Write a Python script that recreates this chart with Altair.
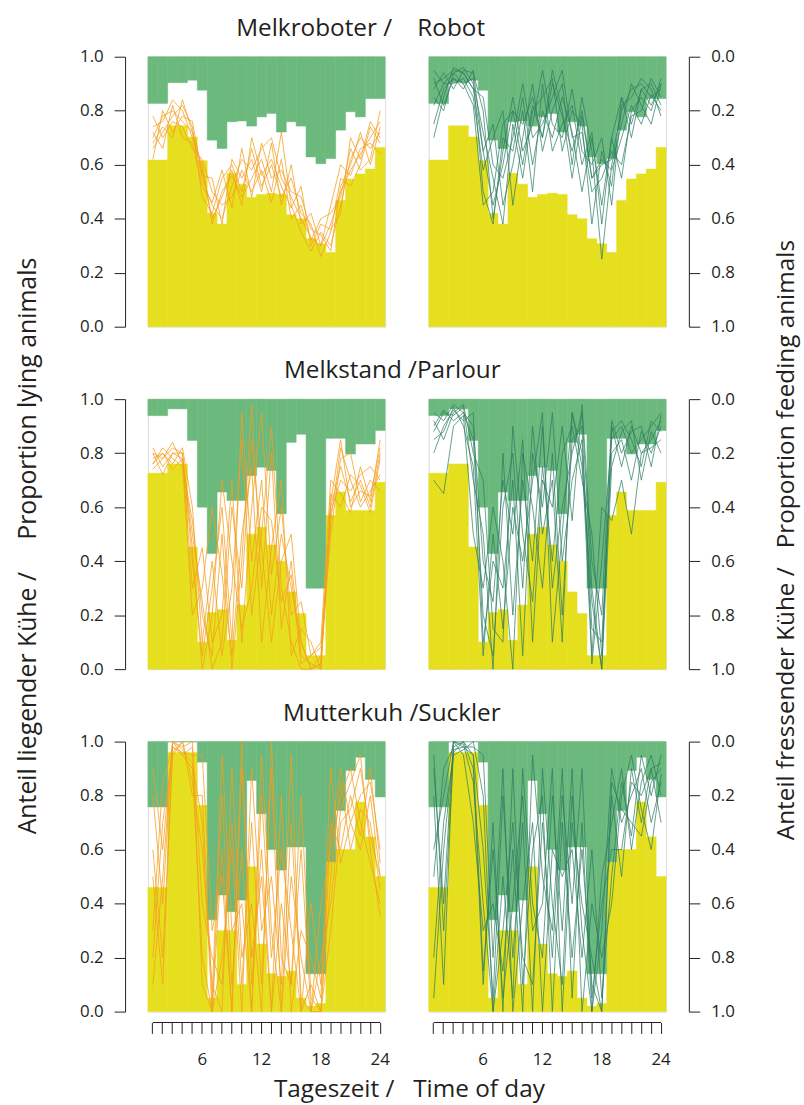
import altair as alt
import pandas as pd

HOURS = list(range(1, 25))

ROW_TITLES = ["Melkroboter /\u00a0\u00a0\u00a0\u00a0Robot", "Melkstand /Parlour", "Mutterkuh /Suckler"]
LEFT_TITLE = "Anteil liegender Kühe /\u00a0\u00a0\u00a0\u00a0\u00a0Proportion lying animals"
RIGHT_TITLE = "Anteil fressender Kühe /\u00a0\u00a0\u00a0Proportion feeding animals"
BOTTOM_TITLE = "Tageszeit /\u00a0\u00a0\u00a0Time of day"
Y_TICKS = [0.0, 0.2, 0.4, 0.6, 0.8, 1.0]

# mean proportion of lying animals per hour (yellow bars)
lying_robot = [0.617, 0.617, 0.744, 0.744, 0.703, 0.615, 0.42, 0.38, 0.568, 0.528, 0.479, 0.49,
               0.494, 0.49, 0.415, 0.40, 0.326, 0.307, 0.275, 0.467, 0.547, 0.566, 0.584, 0.664]
lying_parlour = [0.726, 0.726, 0.76, 0.76, 0.452, 0.10, 0.21, 0.22, 0.107, 0.237, 0.50, 0.526,
                 0.46, 0.40, 0.286, 0.206, 0.05, 0.05, 0.569, 0.656, 0.588, 0.588, 0.588, 0.692]
lying_suckler = [0.46, 0.46, 0.96, 0.96, 0.96, 0.764, 0.05, 0.30, 0.30, 0.10, 0.536, 0.25,
                 0.14, 0.13, 0.15, 0.05, 0.02, 0.03, 0.58, 0.60, 0.60, 0.776, 0.647, 0.50]

# mean proportion of feeding animals per hour (green bars, drawn from the top)
feeding_robot = [0.173, 0.173, 0.096, 0.096, 0.087, 0.124, 0.309, 0.340, 0.241, 0.238, 0.257, 0.223,
                 0.21, 0.279, 0.241, 0.257, 0.371, 0.396, 0.377, 0.272, 0.204, 0.223, 0.155, 0.155]
feeding_parlour = [0.061, 0.061, 0.036, 0.036, 0.153, 0.40, 0.572, 0.344, 0.375, 0.375, 0.283, 0.252,
                   0.264, 0.424, 0.16, 0.13, 0.70, 0.70, 0.145, 0.145, 0.203, 0.166, 0.166, 0.116]
feeding_suckler = [0.242, 0.242, 0.0, 0.0, 0.0, 0.076, 0.66, 0.568, 0.63, 0.587, 0.144, 0.267,
                   0.40, 0.476, 0.39, 0.39, 0.86, 0.86, 0.445, 0.255, 0.107, 0.058, 0.14, 0.205]

# individual days, proportion lying (orange lines)
days_lying_robot = [
    [0.70, 0.78, 0.80, 0.76, 0.72, 0.55, 0.45, 0.40, 0.52, 0.62, 0.58, 0.66, 0.70, 0.55, 0.48, 0.40, 0.33, 0.30, 0.38, 0.50, 0.58, 0.64, 0.70, 0.76],
    [0.74, 0.76, 0.84, 0.80, 0.70, 0.60, 0.38, 0.50, 0.56, 0.48, 0.55, 0.62, 0.50, 0.72, 0.45, 0.35, 0.28, 0.35, 0.30, 0.45, 0.62, 0.70, 0.66, 0.72],
    [0.66, 0.72, 0.78, 0.82, 0.74, 0.48, 0.42, 0.55, 0.60, 0.50, 0.66, 0.52, 0.60, 0.48, 0.55, 0.42, 0.38, 0.26, 0.35, 0.55, 0.52, 0.60, 0.74, 0.68],
    [0.78, 0.70, 0.76, 0.74, 0.66, 0.62, 0.50, 0.45, 0.48, 0.58, 0.50, 0.58, 0.46, 0.62, 0.40, 0.45, 0.32, 0.40, 0.42, 0.48, 0.66, 0.58, 0.62, 0.80],
    [0.62, 0.80, 0.72, 0.78, 0.76, 0.56, 0.55, 0.38, 0.62, 0.55, 0.62, 0.50, 0.68, 0.45, 0.60, 0.38, 0.42, 0.30, 0.45, 0.60, 0.56, 0.66, 0.68, 0.64],
    [0.72, 0.66, 0.82, 0.70, 0.68, 0.52, 0.46, 0.58, 0.44, 0.66, 0.48, 0.68, 0.55, 0.58, 0.50, 0.48, 0.36, 0.34, 0.28, 0.52, 0.60, 0.72, 0.60, 0.74],
    [0.68, 0.74, 0.70, 0.84, 0.72, 0.58, 0.40, 0.48, 0.58, 0.45, 0.70, 0.56, 0.62, 0.52, 0.44, 0.52, 0.30, 0.38, 0.36, 0.42, 0.70, 0.62, 0.76, 0.70],
]
days_lying_parlour = [
    [0.80, 0.78, 0.82, 0.80, 0.40, 0.05, 0.30, 0.60, 0.10, 0.95, 0.40, 0.70, 0.20, 0.50, 0.30, 0.10, 0.00, 0.02, 0.60, 0.75, 0.62, 0.70, 0.60, 0.80],
    [0.76, 0.82, 0.78, 0.75, 0.55, 0.20, 0.05, 0.50, 0.00, 0.40, 0.98, 0.30, 0.80, 0.15, 0.40, 0.05, 0.02, 0.00, 0.55, 0.82, 0.70, 0.60, 0.66, 0.72],
    [0.82, 0.75, 0.80, 0.78, 0.30, 0.45, 0.10, 0.20, 0.70, 0.10, 0.60, 0.95, 0.35, 0.60, 0.20, 0.25, 0.05, 0.10, 0.70, 0.65, 0.58, 0.75, 0.62, 0.85],
    [0.78, 0.80, 0.76, 0.82, 0.60, 0.10, 0.40, 0.05, 0.30, 0.85, 0.20, 0.50, 0.90, 0.30, 0.10, 0.00, 0.00, 0.05, 0.50, 0.78, 0.80, 0.62, 0.70, 0.66],
    [0.74, 0.78, 0.84, 0.76, 0.20, 0.30, 0.60, 0.35, 0.05, 0.50, 0.75, 0.10, 0.45, 0.70, 0.05, 0.15, 0.10, 0.00, 0.65, 0.60, 0.72, 0.68, 0.58, 0.78],
    [0.80, 0.72, 0.80, 0.80, 0.45, 0.00, 0.20, 0.70, 0.40, 0.15, 0.30, 0.60, 0.55, 0.25, 0.35, 0.02, 0.05, 0.08, 0.58, 0.70, 0.66, 0.72, 0.75, 0.70],
    [0.76, 0.80, 0.74, 0.78, 0.50, 0.25, 0.00, 0.10, 0.60, 0.30, 0.85, 0.45, 0.10, 0.40, 0.50, 0.10, 0.00, 0.02, 0.62, 0.85, 0.60, 0.66, 0.64, 0.82],
]
days_lying_suckler = [
    [0.10, 0.50, 1.00, 0.95, 0.90, 0.20, 0.00, 0.80, 0.10, 0.60, 0.00, 0.95, 0.30, 0.00, 0.70, 0.05, 0.00, 0.40, 0.60, 0.80, 0.90, 0.70, 0.55, 0.40],
    [0.60, 0.20, 0.95, 1.00, 0.85, 0.60, 0.10, 0.00, 0.90, 0.20, 0.40, 0.00, 1.00, 0.20, 0.10, 0.60, 0.00, 0.00, 0.30, 0.70, 0.75, 0.90, 0.65, 0.50],
    [0.30, 0.85, 0.98, 0.96, 0.95, 0.95, 0.30, 0.50, 0.00, 1.00, 0.10, 0.60, 0.00, 0.80, 0.00, 0.30, 0.20, 0.05, 0.90, 0.55, 0.70, 0.80, 0.85, 0.60],
    [0.80, 0.40, 1.00, 0.98, 1.00, 0.10, 0.00, 0.20, 0.60, 0.00, 0.90, 0.30, 0.50, 0.10, 0.95, 0.00, 0.10, 0.00, 0.50, 0.85, 0.60, 0.75, 0.70, 0.45],
    [0.20, 0.70, 0.96, 1.00, 0.80, 0.80, 0.05, 0.95, 0.30, 0.40, 0.00, 0.80, 0.20, 0.60, 0.30, 0.00, 0.40, 0.10, 0.70, 0.60, 0.80, 0.65, 0.90, 0.55],
    [0.50, 0.10, 0.98, 0.95, 0.98, 0.40, 0.20, 0.10, 0.70, 0.10, 0.70, 0.10, 0.90, 0.00, 0.50, 0.20, 0.00, 0.20, 0.40, 0.75, 0.85, 0.95, 0.60, 0.35],
    [0.90, 0.60, 1.00, 0.97, 0.92, 0.70, 0.00, 0.60, 0.00, 0.90, 0.20, 0.50, 0.00, 0.40, 0.10, 0.80, 0.05, 0.00, 0.65, 0.90, 0.70, 0.60, 0.80, 0.50],
]

# individual days, proportion feeding (dark green lines, measured from the top)
days_feeding_robot = [
    [0.10, 0.08, 0.05, 0.06, 0.12, 0.35, 0.55, 0.40, 0.20, 0.25, 0.15, 0.30, 0.10, 0.22, 0.35, 0.20, 0.45, 0.40, 0.38, 0.20, 0.12, 0.10, 0.15, 0.12],
    [0.25, 0.12, 0.08, 0.10, 0.08, 0.50, 0.62, 0.30, 0.35, 0.15, 0.40, 0.20, 0.30, 0.15, 0.28, 0.50, 0.30, 0.55, 0.30, 0.45, 0.20, 0.15, 0.20, 0.08],
    [0.15, 0.20, 0.06, 0.04, 0.10, 0.28, 0.45, 0.62, 0.25, 0.45, 0.20, 0.15, 0.08, 0.35, 0.20, 0.25, 0.62, 0.35, 0.48, 0.15, 0.25, 0.12, 0.10, 0.18],
    [0.05, 0.10, 0.10, 0.08, 0.15, 0.42, 0.30, 0.20, 0.55, 0.30, 0.10, 0.35, 0.20, 0.10, 0.40, 0.15, 0.35, 0.75, 0.40, 0.25, 0.10, 0.18, 0.25, 0.10],
    [0.12, 0.06, 0.12, 0.05, 0.06, 0.20, 0.60, 0.35, 0.15, 0.35, 0.25, 0.05, 0.25, 0.30, 0.12, 0.35, 0.40, 0.30, 0.55, 0.18, 0.15, 0.08, 0.12, 0.22],
    [0.30, 0.15, 0.04, 0.06, 0.12, 0.15, 0.40, 0.45, 0.30, 0.10, 0.30, 0.25, 0.15, 0.05, 0.30, 0.28, 0.50, 0.45, 0.35, 0.40, 0.22, 0.20, 0.08, 0.15],
    [0.08, 0.18, 0.08, 0.12, 0.05, 0.35, 0.25, 0.55, 0.40, 0.20, 0.50, 0.10, 0.35, 0.25, 0.18, 0.40, 0.28, 0.62, 0.30, 0.15, 0.30, 0.12, 0.18, 0.10],
    [0.18, 0.10, 0.06, 0.10, 0.18, 0.55, 0.50, 0.25, 0.20, 0.40, 0.18, 0.30, 0.05, 0.20, 0.45, 0.22, 0.45, 0.38, 0.42, 0.30, 0.18, 0.25, 0.14, 0.20],
]
days_feeding_parlour = [
    [0.05, 0.08, 0.02, 0.05, 0.15, 0.80, 0.95, 0.40, 0.20, 0.70, 0.10, 0.50, 0.30, 0.90, 0.05, 0.20, 0.98, 0.60, 0.15, 0.10, 0.20, 0.15, 0.10, 0.05],
    [0.12, 0.05, 0.06, 0.03, 0.30, 0.50, 1.00, 0.20, 0.80, 0.30, 0.60, 0.10, 0.70, 0.40, 0.20, 0.05, 0.70, 1.00, 0.10, 0.25, 0.10, 0.20, 0.15, 0.08],
    [0.20, 0.10, 0.04, 0.08, 0.05, 0.90, 0.60, 0.70, 0.30, 0.95, 0.20, 0.40, 0.05, 0.60, 0.30, 0.15, 0.85, 0.90, 0.20, 0.15, 0.30, 0.12, 0.20, 0.10],
    [0.08, 0.15, 0.05, 0.02, 0.20, 0.30, 0.85, 0.90, 0.10, 0.50, 0.75, 0.25, 0.60, 0.20, 0.10, 0.30, 0.50, 0.95, 0.12, 0.08, 0.15, 0.25, 0.08, 0.12],
    [0.30, 0.35, 0.10, 0.06, 0.50, 0.70, 0.40, 0.60, 1.00, 0.20, 0.40, 0.70, 0.20, 0.80, 0.15, 0.10, 0.95, 0.40, 0.45, 0.30, 0.50, 0.20, 0.18, 0.15],
    [0.10, 0.04, 0.08, 0.05, 0.10, 0.60, 0.75, 0.30, 0.50, 0.15, 0.90, 0.30, 0.40, 0.10, 0.45, 0.02, 0.60, 0.80, 0.08, 0.20, 0.12, 0.10, 0.25, 0.06],
    [0.15, 0.12, 0.03, 0.10, 0.25, 0.95, 0.50, 0.85, 0.40, 0.60, 0.30, 0.05, 0.90, 0.50, 0.05, 0.25, 0.75, 1.00, 0.25, 0.12, 0.08, 0.30, 0.12, 0.20],
]
days_feeding_suckler = [
    [0.10, 0.60, 0.00, 0.02, 0.05, 0.40, 0.95, 0.20, 0.80, 0.30, 1.00, 0.10, 0.60, 0.90, 0.20, 0.70, 1.00, 0.50, 0.30, 0.10, 0.40, 0.15, 0.05, 0.20],
    [0.50, 0.10, 0.02, 0.00, 0.10, 0.90, 0.30, 1.00, 0.10, 0.90, 0.40, 0.20, 1.00, 0.30, 0.80, 0.40, 0.90, 1.00, 0.20, 0.50, 0.10, 0.30, 0.10, 0.08],
    [0.80, 0.30, 0.05, 0.03, 0.00, 0.20, 1.00, 0.50, 0.95, 0.10, 0.60, 0.80, 0.20, 0.70, 0.10, 1.00, 0.60, 0.80, 0.60, 0.20, 0.05, 0.25, 0.40, 0.12],
    [0.20, 0.90, 0.00, 0.05, 0.30, 0.70, 0.60, 0.85, 0.40, 1.00, 0.05, 0.50, 0.70, 0.10, 0.95, 0.30, 1.00, 0.70, 0.10, 0.30, 0.20, 0.10, 0.30, 0.15],
    [0.95, 0.40, 0.03, 0.02, 0.02, 0.05, 0.80, 0.10, 1.00, 0.60, 0.30, 1.00, 0.40, 0.50, 0.40, 0.80, 0.40, 0.95, 0.50, 0.15, 0.35, 0.05, 0.20, 0.05],
    [0.40, 0.20, 0.00, 0.01, 0.15, 0.60, 1.00, 0.70, 0.30, 0.80, 0.90, 0.30, 0.80, 0.20, 0.60, 0.10, 0.95, 0.60, 0.40, 0.40, 0.15, 0.20, 0.10, 0.30],
    [0.05, 0.70, 0.04, 0.00, 0.05, 0.85, 0.40, 0.95, 0.60, 0.20, 0.70, 0.60, 0.10, 1.00, 0.30, 0.60, 0.80, 1.00, 0.15, 0.25, 0.30, 0.35, 0.15, 0.10],
]

LYING = [lying_robot, lying_parlour, lying_suckler]
FEEDING = [feeding_robot, feeding_parlour, feeding_suckler]
DAYS_LYING = [days_lying_robot, days_lying_parlour, days_lying_suckler]
DAYS_FEEDING = [days_feeding_robot, days_feeding_parlour, days_feeding_suckler]

# ---- style ----
FONT = "Open Sans"
TXT = "#231F20"
YEL = "#E6DF1E"
GRN = "#6CB97D"
ORANGE = "#F59E1E"
DKGRN = "#2B7C62"
W, H = 239, 272
TITLE_DX = [89, 137, 136]


def long_df(days):
    rows = []
    for d, vals in enumerate(days):
        for h, v in zip(HOURS, vals):
            rows.append({"hour": h, "val": v, "day": d})
    return pd.DataFrame(rows)


def panel(row, side):
    mean_df = pd.DataFrame({"hour": HOURS, "lying": LYING[row], "feeding": FEEDING[row]})
    xscale = alt.Scale(paddingInner=0, paddingOuter=0)
    if row == 2:
        xaxis = alt.Axis(orient="bottom", offset=11, tickSize=11, domain=False, labelPadding=18,
                         labelAngle=0, labelFontSize=17, labelFont=FONT, labelColor=TXT,
                         tickColor=TXT, tickWidth=1,
                         labelExpr="datum.value % 6 == 0 ? datum.label : ''", title=None)
    else:
        xaxis = None
    yscale = alt.Scale(domain=[0, 1], nice=False, zero=True)
    common = dict(offset=23, values=Y_TICKS, tickSize=11, labelPadding=11, labelFontSize=17,
                  labelFont=FONT, labelColor=TXT, tickColor=TXT, domainColor=TXT,
                  grid=False, title=None)
    if side == "left":
        yaxis = alt.Axis(orient="left", format=".1f", **common)
    else:
        yaxis = alt.Axis(orient="right", labelExpr="format(1 - datum.value, '.1f')", **common)

    def X(field="hour:O"):
        return alt.X(field, scale=xscale, axis=xaxis)

    def Y(field):
        return alt.Y(field, scale=yscale, axis=yaxis)

    yellow = alt.Chart(mean_df).mark_bar(color=YEL, stroke=YEL, strokeWidth=0.5).encode(
        x=X(), y=Y("lying:Q"), y2=alt.datum(0))
    green = alt.Chart(mean_df).transform_calculate(top="1 - datum.feeding").mark_bar(
        color=GRN, stroke=GRN, strokeWidth=0.5).encode(x=X(), y=Y("top:Q"), y2=alt.datum(1))

    if side == "left":
        ldf = long_df(DAYS_LYING[row])
        lines = alt.Chart(ldf).mark_line(color=ORANGE, strokeWidth=0.9, opacity=0.85).encode(
            x=X(), y=Y("val:Q"), detail="day:N")
    else:
        ldf = long_df(DAYS_FEEDING[row])
        lines = alt.Chart(ldf).transform_calculate(inv="1 - datum.val").mark_line(
            color=DKGRN, strokeWidth=0.8, opacity=0.9).encode(x=X(), y=Y("inv:Q"), detail="day:N")

    layers = [yellow, green, lines]

    if side == "left":
        layers.append(alt.Chart(pd.DataFrame({"t": [ROW_TITLES[row]]})).mark_text(
            align="left", baseline="alphabetic", fontSize=24.5, font=FONT, color=TXT).encode(
            text="t:N", x=alt.value(TITLE_DX[row]), y=alt.value(-21)))
    if row == 1 and side == "left":
        layers.append(alt.Chart(pd.DataFrame({"t": [LEFT_TITLE]})).mark_text(
            align="center", baseline="alphabetic", angle=270, fontSize=25, font=FONT, color=TXT).encode(
            text="t:N", x=alt.value(-113), y=alt.value(148)))
    if row == 1 and side == "right":
        layers.append(alt.Chart(pd.DataFrame({"t": [RIGHT_TITLE]})).mark_text(
            align="center", baseline="alphabetic", angle=270, fontSize=24.5, font=FONT, color=TXT).encode(
            text="t:N", x=alt.value(368), y=alt.value(142)))
    if row == 2:
        layers.append(alt.Chart(pd.DataFrame({"hour": [1, 24]})).mark_line(
            color=TXT, strokeWidth=1).encode(x=X(), y=alt.value(H + 11)))
        if side == "left":
            layers.append(alt.Chart(pd.DataFrame({"t": [BOTTOM_TITLE]})).mark_text(
                align="left", baseline="alphabetic", fontSize=24.5, font=FONT, color=TXT).encode(
                text="t:N", x=alt.value(127), y=alt.value(358)))

    return alt.layer(*layers).properties(width=W, height=H)


panels = [panel(r, s) for r in range(3) for s in ("left", "right")]
chart = alt.concat(*panels, columns=2, spacing={"row": 73, "column": 44}, bounds="flush").properties(
    padding={"left": 15, "top": 11, "right": 5, "bottom": 2}
).configure_view(stroke=None).configure(font=FONT)

chart.save("out.html", embed_options={"renderer": "svg", "actions": False})
